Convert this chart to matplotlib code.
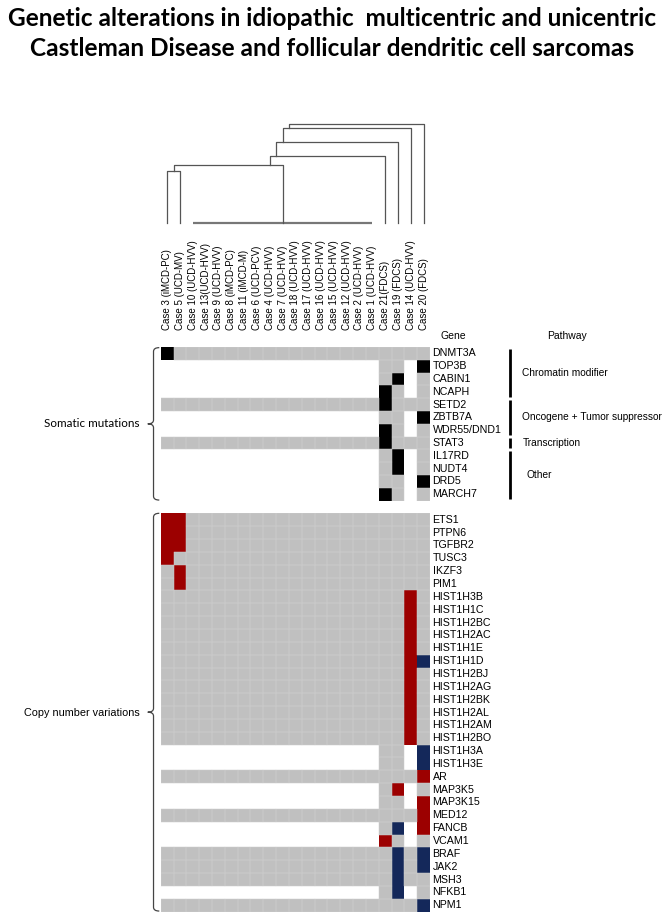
import numpy as np
import matplotlib.pyplot as plt
from matplotlib.colors import ListedColormap
from matplotlib.path import Path
from matplotlib.patches import PathPatch

plt.rcParams['font.family'] = ['Liberation Sans', 'DejaVu Sans']

# Data
cases = ["Case 3 (iMCD-PC)", "Case 5 (UCD-MV)", "Case 10 (UCD-HVV)", "Case 13(UCD-HVV)",
         "Case 9 (UCD-HVV)", "Case 8 (iMCD-PC)", "Case 11 (iMCD-M)", "Case 6 (UCD-PCV)",
         "Case 4 (UCD-HVV)", "Case 7 (UCD-HVV)", "Case 18 (UCD-HVV)", "Case 17 (UCD-HVV)",
         "Case 16 (UCD-HVV)", "Case 15 (UCD-HVV)", "Case 12 (UCD-HVV)", "Case 2 (UCD-HVV)",
         "Case 1 (UCD-HVV)", "Case 21(FDCS)", "Case 19 (FDCS)", "Case 14 (UCD-HVV)",
         "Case 20 (FDCS)"]

# codes: . not assessed, o no alteration, X mutation, G gain, L loss
som_genes = ["DNMT3A", "TOP3B", "CABIN1", "NCAPH", "SETD2", "ZBTB7A", "WDR55/DND1",
             "STAT3", "IL17RD", "NUDT4", "DRD5", "MARCH7"]
som_calls = ["Xoooo ooooo ooooo oo oooo",
             "..... ..... ..... .. oo.X",
             "..... ..... ..... .. oX.o",
             "..... ..... ..... .. Xo.o",
             "ooooo ooooo ooooo oo Xooo",
             "..... ..... ..... .. oo.X",
             "..... ..... ..... .. Xo.o",
             "ooooo ooooo ooooo oo Xooo",
             "..... ..... ..... .. oX.o",
             "..... ..... ..... .. oX.o",
             "..... ..... ..... .. oo.X",
             "..... ..... ..... .. Xo.o"]

cnv_genes = ["ETS1", "PTPN6", "TGFBR2", "TUSC3", "IKZF3", "PIM1", "HIST1H3B", "HIST1H1C",
             "HIST1H2BC", "HIST1H2AC", "HIST1H1E", "HIST1H1D", "HIST1H2BJ", "HIST1H2AG",
             "HIST1H2BK", "HIST1H2AL", "HIST1H2AM", "HIST1H2BO", "HIST1H3A", "HIST1H3E",
             "AR", "MAP3K5", "MAP3K15", "MED12", "FANCB", "VCAM1", "BRAF", "JAK2", "MSH3",
             "NFKB1", "NPM1"]
cnv_calls = ["GGooo ooooo ooooo oo oooo",
             "GGooo ooooo ooooo oo oooo",
             "GGooo ooooo ooooo oo oooo",
             "Goooo ooooo ooooo oo oooo",
             "oGooo ooooo ooooo oo oooo",
             "oGooo ooooo ooooo oo oooo",
             "ooooo ooooo ooooo oo ooGo",
             "ooooo ooooo ooooo oo ooGo",
             "ooooo ooooo ooooo oo ooGo",
             "ooooo ooooo ooooo oo ooGo",
             "ooooo ooooo ooooo oo ooGo",
             "ooooo ooooo ooooo oo ooGL",
             "ooooo ooooo ooooo oo ooGo",
             "ooooo ooooo ooooo oo ooGo",
             "ooooo ooooo ooooo oo ooGo",
             "ooooo ooooo ooooo oo ooGo",
             "ooooo ooooo ooooo oo ooGo",
             "ooooo ooooo ooooo oo ooGo",
             "..... ..... ..... .. oo.L",
             "..... ..... ..... .. oo.L",
             "ooooo ooooo ooooo oo oooG",
             "..... ..... ..... .. oG.o",
             "..... ..... ..... .. oo.G",
             "ooooo ooooo ooooo oo oooG",
             "..... ..... ..... .. oL.G",
             "..... ..... ..... .. Go.o",
             "ooooo ooooo ooooo oo oLoL",
             "ooooo ooooo ooooo oo oLoL",
             "ooooo ooooo ooooo oo oLoo",
             "..... ..... ..... .. oL.o",
             "ooooo ooooo ooooo oo oooL"]

pathways = ["Chromatin modifier", "Oncogene + Tumor suppressor", "Transcription", "Other"]
pathway_rows = [(0, 4), (4, 7), (7, 8), (8, 12)]

# dendrogram: cases in flat_group joined at height 0, then successive merges
flat_group = list(range(2, 17))
den_merges = [("a", 0, 1, 0.52),
              ("b", "a", "flat", 0.58),
              ("c", "b", 17, 0.67),
              ("d", "c", 18, 0.81),
              ("e", "d", 19, 0.95),
              ("f", "e", 20, 0.99)]

code_val = {'.': np.nan, 'o': 0, 'X': 1, 'G': 2, 'L': 3}
cmap = ListedColormap(['#c0c0c0', '#000000', '#9c0000', '#14285a'])
cmap.set_bad((1, 1, 1, 0))


def to_matrix(calls):
    return np.array([[code_val[c] for c in row.replace(" ", "")] for row in calls])


def draw_heat(ax, mat):
    m = np.ma.masked_invalid(mat)
    ax.pcolormesh(m, cmap=cmap, vmin=-0.5, vmax=3.5)
    # faint cell borders only on gray cells
    rows, cols = mat.shape
    for i in range(rows):
        for j in range(cols):
            if not np.isnan(mat[i, j]) and mat[i, j] == 0:
                ax.add_patch(plt.Rectangle((j, i), 1, 1, fill=False, lw=0.35,
                                           edgecolor='#cdcdcd'))


def brace(ax, x, y0, y1, dx, dy):
    ym = (y0 + y1) / 2
    verts = [(x + dx, y0), (x, y0), (x, y0 + dy),
             (x, ym - dy), (x, ym), (x - dx, ym),
             (x, ym), (x, ym + dy),
             (x, y1 - dy), (x, y1), (x + dx, y1)]
    codes = [Path.MOVETO, Path.CURVE3, Path.CURVE3,
             Path.LINETO, Path.CURVE3, Path.CURVE3,
             Path.CURVE3, Path.CURVE3,
             Path.LINETO, Path.CURVE3, Path.CURVE3]
    ax.add_patch(PathPatch(Path(verts, codes), fill=False, lw=0.9,
                           edgecolor='#444444', clip_on=False))


W, H = 665, 914
fig = plt.figure(figsize=(W / 100, H / 100), dpi=100)

gx0, gx1 = 160.7, 430.0
ncol = len(cases)

# title
title_font = ['Lato', 'DejaVu Sans']
fig.text(0.5, 1 - 19 / H, "Genetic alterations in idiopathic  multicentric and unicentric",
         ha='center', va='center', fontsize=17.6, fontweight='bold', family=title_font)
fig.text(0.5, 1 - 48 / H, "Castleman Disease and follicular dendritic cell sarcomas",
         ha='center', va='center', fontsize=17.6, fontweight='bold', family=title_font)

# dendrogram
ax_d = fig.add_axes([gx0 / W, 1 - 222.7 / H, (gx1 - gx0) / W, 102.7 / H])
ax_d.set_xlim(0, ncol)
ax_d.set_ylim(0, 1.027)
ax_d.axis('off')
pos = {i: i + 0.5 for i in range(ncol)}
hgt = {i: 0.0 for i in range(ncol)}
members = {i: [i] for i in range(ncol)}
ax_d.plot([flat_group[0] + 0.5, flat_group[-1] + 0.5], [0, 0], color='#777777', lw=1.6,
          clip_on=False, solid_capstyle='butt')
members["flat"] = flat_group
pos["flat"] = np.mean([g + 0.5 for g in flat_group])
hgt["flat"] = 0.0
for node, a, b, h in den_merges:
    ax_d.plot([pos[a], pos[a], pos[b], pos[b]], [hgt[a], h, h, hgt[b]],
              color='#555555', lw=0.9, clip_on=False)
    members[node] = members[a] + members[b]
    pos[node] = np.mean([m + 0.5 for m in members[node]])
    hgt[node] = h

# somatic mutations
som = to_matrix(som_calls)
ax_s = fig.add_axes([gx0 / W, 1 - 500.7 / H, (gx1 - gx0) / W, 153.7 / H])
draw_heat(ax_s, som)
ax_s.set_xlim(0, ncol)
ax_s.set_ylim(len(som_genes), 0)
ax_s.axis('off')
for j, c in enumerate(cases):
    ax_s.text(j + 0.5, -1.3, c, rotation=90, ha='center', va='bottom', fontsize=7)
ax_s.text(21.85, -0.86, "Gene", ha='left', va='center', fontsize=7.5)
ax_s.text(31.7, -0.86, "Pathway", ha='center', va='center', fontsize=7.5)
for i, g in enumerate(som_genes):
    ax_s.text(21.2, i + 0.5, g, ha='left', va='center', fontsize=7.7)
for name, (r0, r1) in zip(pathways, pathway_rows):
    ax_s.plot([27.2, 27.2], [r0 + 0.12, r1 - 0.12], color='black', lw=2, clip_on=False,
              solid_capstyle='butt')
    ax_s.text(28.2 if name != "Other" else 28.5, (r0 + r1) / 2, name, ha='left',
              va='center', fontsize=7.3)
brace(ax_s, -0.56, 0.05, 11.95, 0.45, 0.3)
ax_s.text(-1.67, 6, "Somatic mutations", ha='right', va='center', fontsize=8.4,
          family=title_font)

# copy number variations
cnv = to_matrix(cnv_calls)
ax_c = fig.add_axes([gx0 / W, 1 - 911.7 / H, (gx1 - gx0) / W, 398.4 / H])
draw_heat(ax_c, cnv)
ax_c.set_xlim(0, ncol)
ax_c.set_ylim(len(cnv_genes), 0)
ax_c.axis('off')
for i, g in enumerate(cnv_genes):
    ax_c.text(21.2, i + 0.5, g, ha='left', va='center', fontsize=7.7)
brace(ax_c, -0.56, 0.0, 30.95, 0.45, 0.3)
ax_c.text(-1.67, 15.5, "Copy number variations", ha='right', va='center', fontsize=7.8)

fig.savefig("out.png", dpi=100)
